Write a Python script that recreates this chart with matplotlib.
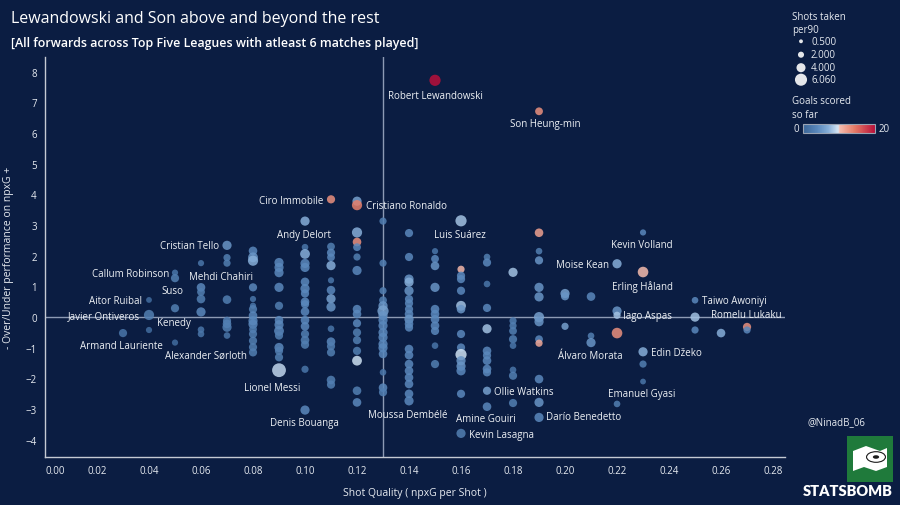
import numpy as np
import matplotlib
matplotlib.use("Agg")
import matplotlib.pyplot as plt
from matplotlib.colors import LinearSegmentedColormap, Normalize
from matplotlib.patches import Rectangle, Circle, Polygon

plt.rcParams['font.family'] = ['Open Sans', 'DejaVu Sans']

BG = '#0b1d42'
FG = '#e6eaf0'

# npxG per shot columns, and per-column values
cols = [0.03, 0.04, 0.05, 0.06, 0.07, 0.08, 0.09, 0.10, 0.11, 0.12, 0.13, 0.14,
        0.15, 0.16, 0.17, 0.18, 0.19, 0.20, 0.21, 0.22, 0.23, 0.25, 0.26, 0.27]

perf = [
    [-0.52],
    [0.56, 0.07, -0.42],
    [1.45, 1.27, 0.29, -0.83],
    [1.76, 0.97, 0.82, 0.59, 0.17, -0.41, -0.55],
    [2.34, 1.94, 1.76, 0.57, -0.12, -0.22, -0.33, -0.6],
    [2.16, 1.95, 1.84, 0.97, 0.59, 0.37, 0.26, 0.05, -0.12, -0.23, -0.4, -0.55, -0.77, -0.98, -1.15],
    [1.78, 1.62, 1.45, 0.97, 0.37, -0.1, -0.25, -0.45, -0.6, -0.99, -1.1, -1.31, -1.73],
    [3.13, 2.28, 2.06, 1.75, 1.62, 1.15, 0.93, 0.77, 0.5, 0.42, 0.18, -0.1, -0.3, -0.55, -0.75, -0.9, -1.7, -3.03],
    [3.84, 2.3, 2.1, 1.95, 1.68, 1.2, 0.88, 0.6, 0.33, -0.38, -0.8, -0.95, -1.15, -2.05, -2.2],
    [3.78, 3.65, 2.76, 2.45, 2.28, 1.96, 1.52, 0.26, 0.1, -0.2, -0.5, -0.75, -1.1, -1.42, -2.4, -2.78],
    [3.13, 1.76, 0.86, 0.55, 0.37, 0.2, 0.05, -0.1, -0.28, -0.5, -0.66, -0.88, -1.0, -1.2, -1.8, -2.3, -2.45],
    [2.74, 1.96, 1.24, 1.14, 0.86, 0.59, 0.45, 0.26, 0.1, -0.07, -0.22, -0.34, -1.04, -1.24, -1.53, -1.75, -1.97, -2.18, -2.5, -2.73],
    [7.72, 2.15, 1.9, 1.67, 0.97, 0.26, 0.1, -0.07, -0.28, -0.45, -0.93, -1.53],
    [3.14, 1.56, 1.35, 1.24, 0.86, 0.37, 0.26, -0.55, -0.99, -1.22, -1.42, -1.6, -1.75, -2.5, -3.79],
    [1.96, 1.78, 1.08, 0.3, -0.38, -1.1, -1.25, -1.42, -1.69, -1.8, -2.4, -2.92],
    [1.46, -0.12, -0.28, -0.45, -0.72, -0.93, -1.72, -1.91, -2.8],
    [6.71, 2.75, 2.15, 1.85, 0.97, 0.66, 0.0, -0.15, -0.72, -0.85, -2.02, -2.78, -3.27],
    [0.77, 0.68, -0.3],
    [0.67, -0.61, -0.83],
    [1.74, 0.2, 0.06, -0.52, -2.83],
    [2.76, 1.47, -1.13, -1.53, -2.1],
    [0.55, 0.0, -0.42],
    [-0.52],
    [-0.32, -0.42],
]

shots = [
    [2.0],
    [0.8, 3.0, 1.0],
    [1.0, 2.0, 2.0, 1.0],
    [1.0, 2.2, 1.8, 2.2, 2.5, 1.2, 1.2],
    [2.5, 1.5, 1.5, 2.2, 2.0, 2.2, 2.5, 1.2],
    [2.2, 2.8, 3.0, 2.0, 1.0, 1.0, 2.0, 2.2, 2.5, 2.5, 1.8, 2.0, 2.0, 2.0, 2.0],
    [2.5, 2.5, 2.5, 2.5, 2.0, 2.2, 2.5, 2.8, 2.0, 2.5, 2.0, 2.0, 4.8],
    [2.5, 1.2, 2.8, 2.5, 2.5, 2.2, 2.5, 2.0, 2.2, 2.0, 2.2, 2.2, 2.2, 2.0, 2.2, 2.0, 1.5, 2.5],
    [2.0, 1.8, 2.0, 1.8, 2.5, 1.0, 2.2, 2.5, 2.5, 1.2, 2.2, 2.0, 2.0, 2.2, 2.0],
    [2.5, 3.0, 3.0, 2.2, 1.8, 1.5, 2.5, 2.2, 2.2, 2.0, 2.0, 2.0, 2.0, 2.8, 2.2, 2.2],
    [1.5, 1.5, 1.5, 1.8, 2.5, 3.5, 2.5, 2.5, 2.5, 2.5, 2.5, 2.5, 2.5, 2.2, 1.2, 2.2, 2.0],
    [2.0, 2.0, 2.5, 2.5, 2.5, 2.0, 2.0, 2.0, 2.2, 2.5, 2.2, 2.0, 2.2, 2.2, 2.2, 2.2, 2.2, 2.2, 2.2, 2.5],
    [3.5, 1.0, 1.8, 2.2, 2.5, 2.2, 2.2, 2.2, 2.2, 2.0, 1.2, 2.0],
    [3.5, 1.5, 2.0, 2.0, 2.0, 2.8, 2.2, 2.0, 2.0, 3.5, 2.5, 2.5, 2.5, 2.0, 2.5],
    [1.2, 2.0, 1.2, 2.0, 2.5, 2.2, 2.0, 2.2, 2.2, 2.0, 2.0, 2.2],
    [2.5, 1.5, 1.5, 1.8, 2.0, 1.2, 1.2, 2.0, 2.0],
    [1.8, 2.2, 1.2, 2.0, 2.5, 2.5, 3.0, 2.5, 1.8, 1.5, 2.2, 2.5, 2.5],
    [2.5, 2.0, 1.5],
    [2.2, 1.2, 2.5],
    [2.5, 2.5, 1.5, 3.2, 1.2],
    [1.0, 3.2, 2.5, 1.5, 0.8],
    [1.2, 2.5, 1.5],
    [2.2],
    [2.0, 1.5],
]

goals = [
    [2],
    [1, 3, 1],
    [2, 3, 3, 1],
    [2, 4, 3, 3, 4, 2, 2],
    [5, 3, 3, 3, 3, 3, 3, 2],
    [4, 5, 7, 4, 2, 2, 3, 4, 4, 4, 3, 3, 3, 3, 3],
    [4, 4, 4, 4, 3, 4, 4, 4, 3, 4, 3, 3, 9],
    [7, 2, 7, 4, 4, 4, 4, 4, 4, 4, 4, 4, 4, 3, 3, 3, 2, 4],
    [13, 3, 4, 4, 7, 2, 4, 6, 5, 2, 4, 3, 3, 3, 3],
    [6, 14, 7, 13, 4, 3, 4, 4, 4, 4, 3, 3, 3, 9.5, 3, 4],
    [3, 3, 3, 3, 5, 6, 5, 4, 4, 4, 4, 4, 4, 4, 2, 4, 3],
    [4, 4, 5, 7, 5, 4, 4, 4, 4, 5, 4, 4, 4, 4, 4, 4, 4, 4, 4, 4],
    [20, 2, 4, 5, 5, 4, 4, 4, 4, 4, 2, 3],
    [8, 10.5, 4, 4, 4, 8, 5, 4, 4, 9.5, 5, 5, 4, 4, 3],
    [3, 4, 2, 4, 8, 4, 4, 4, 4, 4, 6, 4],
    [8, 3, 3, 3, 3, 2, 2, 3, 3],
    [13, 12, 3, 5, 5, 5, 6, 5, 4, 11.5, 4, 5, 4],
    [6, 5, 6],
    [4, 3, 5],
    [7, 5, 8, 13, 3],
    [4, 10.3, 7, 3, 2],
    [4, 8, 4],
    [7],
    [13, 4],
]

# labelled players: name, x, y, alignment
label_names = ["Robert Lewandowski", "Son Heung-min", "Ciro Immobile", "Cristiano Ronaldo",
               "Andy Delort", "Luis Suárez", "Cristian Tello", "Callum Robinson",
               "Mehdi Chahiri", "Suso", "Aitor Ruibal", "Javier Ontiveros", "Kenedy",
               "Armand Lauriente", "Alexander Sørloth", "Lionel Messi", "Denis Bouanga",
               "Moussa Dembélé", "Amine Gouiri", "Kevin Lasagna", "Ollie Watkins",
               "Darío Benedetto", "Emanuel Gyasi", "Edin Džeko", "Álvaro Morata",
               "Kevin Volland", "Moise Kean", "Erling Håland", "Taiwo Awoniyi",
               "Iago Aspas", "Romelu Lukaku"]
label_x = [0.150, 0.1923, 0.1069, 0.1234, 0.0996, 0.1596, 0.0669, 0.0477,
           0.0677, 0.0492, 0.0373, 0.0365, 0.0495, 0.0295, 0.0618, 0.0872, 0.0996,
           0.1395, 0.1696, 0.1630, 0.1727, 0.1927, 0.2296, 0.2330, 0.2097,
           0.2296, 0.2170, 0.2297, 0.2528, 0.2224, 0.2696]
label_y = [7.23, 6.32, 3.81, 3.63, 2.70, 2.70, 2.35, 1.43, 1.31, 0.86, 0.53, 0.04,
           -0.17, -0.93, -1.24, -2.31, -3.45, -3.16, -3.32, -3.82, -2.43, -3.25,
           -2.49, -1.15, -1.24, 2.36, 1.73, 1.00, 0.53, 0.04, 0.07]
label_ha = ["center", "center", "right", "left", "center", "center", "right", "right",
            "center", "center", "right", "right", "center", "center", "center", "center",
            "center", "center", "center", "left", "left", "left", "center", "left",
            "center", "center", "right", "center", "left", "left", "center"]

legend_shots = [0.5, 2.0, 4.0, 6.06]
legend_labels = ["0.500", "2.000", "4.000", "6.060"]


def bubble(s):
    d_px = 4.2 + 2.0 * np.asarray(s, dtype=float)
    return (d_px * 0.72) ** 2


xs = np.concatenate([[c] * len(p) for c, p in zip(cols, perf)])
ys = np.concatenate(perf)
ss = np.concatenate(shots)
gs = np.concatenate(goals)

cmap = LinearSegmentedColormap.from_list(
    "goals", [(0.0, '#3a6496'), (0.2, '#5a88bc'), (0.35, '#86aed8'), (0.49, '#d6e6f4'),
              (0.51, '#f5bcae'), (0.72, '#e57a66'), (1.0, '#b8103a')])
norm = Normalize(0, 20)

fig = plt.figure(figsize=(9, 5.06), dpi=100, facecolor=BG)
ax = fig.add_axes([45 / 900, 48 / 506, 740 / 900, 400 / 506])
ax.set_facecolor(BG)

ax.axvline(0.13, color='#8d9ab4', lw=1, zorder=1)
ax.axhline(0, color='#8d9ab4', lw=1, zorder=1)

ax.scatter(xs, ys, s=bubble(ss), c=gs, cmap=cmap, norm=norm, alpha=0.85,
           linewidths=0, zorder=3)

for name, lx, ly, ha in zip(label_names, label_x, label_y, label_ha):
    ax.text(lx, ly, name, color='#eef1f5', fontsize=7, ha=ha, va='center', zorder=5,
            fontweight='medium')

ax.set_xlim(0, 0.2846)
ax.set_ylim(-4.56, 8.48)
ax.set_xticks(np.arange(0, 0.29, 0.02))
ax.set_xticklabels([f"{v:.2f}" for v in np.arange(0, 0.29, 0.02)])
ax.set_yticks(range(-4, 9))
ax.tick_params(colors=FG, labelsize=7, length=0, pad=6)
ax.get_xticklabels()[0].set_horizontalalignment('left')
for side in ['top', 'right']:
    ax.spines[side].set_visible(False)
for side in ['left', 'bottom']:
    ax.spines[side].set_color('#c5cad3')
    ax.spines[side].set_linewidth(1)

ax.set_xlabel("Shot Quality ( npxG per Shot )", color=FG, fontsize=7.5, labelpad=8)
ax.set_ylabel("- Over/Under performance on npxG +", color=FG, fontsize=7.5, labelpad=8)

fig.text(11 / 900, 1 - 19 / 506, "Lewandowski and Son above and beyond the rest",
         color='white', fontsize=11.5, va='center', ha='left', fontweight='medium')
fig.text(11 / 900, 1 - 44 / 506,
         "[All forwards across Top Five Leagues with atleast 6 matches played]",
         color='white', fontsize=8.9, va='center', ha='left', fontweight='semibold')

# size legend
fig.text(792 / 900, 1 - 17 / 506, "Shots taken", color=FG, fontsize=7, va='center')
fig.text(792 / 900, 1 - 30 / 506, "per90", color=FG, fontsize=7, va='center')
lax = fig.add_axes([790 / 900, 1 - 87 / 506, 22 / 900, 51 / 506])
lax.set_xlim(0, 1)
lax.set_ylim(87, 36)
lax.axis('off')
leg_y = [42.3, 55.7, 68.7, 80.7]
lax.scatter([0.5] * len(legend_shots), leg_y, s=bubble(legend_shots) * 0.55,
            color='#e4e6ea', linewidths=0)
for ly, lab in zip(leg_y, legend_labels):
    fig.text(811 / 900, 1 - ly / 506, lab, color=FG, fontsize=7, va='center')

# colour legend
fig.text(792 / 900, 1 - 102 / 506, "Goals scored", color=FG, fontsize=7, va='center')
fig.text(792 / 900, 1 - 116 / 506, "so far", color=FG, fontsize=7, va='center')
cax = fig.add_axes([803 / 900, 1 - 133.5 / 506, 72 / 900, 9 / 506])
cb = fig.colorbar(plt.cm.ScalarMappable(norm=norm, cmap=cmap), cax=cax,
                  orientation='horizontal')
cb.set_ticks([])
cb.outline.set_edgecolor('#9aa3b3')
cb.outline.set_linewidth(0.8)
fig.text(799 / 900, 1 - 129 / 506, "0", color=FG, fontsize=7, va='center', ha='right')
fig.text(879 / 900, 1 - 129 / 506, "20", color=FG, fontsize=7, va='center', ha='left')

# credits
fig.text(836 / 900, 1 - 423 / 506, "@NinadB_06", color=FG, fontsize=7, ha='center',
         va='center')
fig.patches.append(Rectangle((847 / 900, 1 - 483 / 506), 46 / 900, 46 / 506,
                             transform=fig.transFigure, facecolor='#1f7a3b',
                             edgecolor='none'))
flag = [(853, 452), (866, 447), (880, 452), (887, 449), (887, 468), (876, 472),
        (864, 468), (853, 472)]
fig.patches.append(Polygon([(px / 900, 1 - py / 506) for px, py in flag], closed=True,
                           transform=fig.transFigure, facecolor='white',
                           edgecolor='none'))
fig.patches.append(Circle((876 / 900, 1 - 458 / 506), 0.0105, transform=fig.transFigure,
                          facecolor='white', edgecolor='#1a1a1a', lw=0.8))
fig.patches.append(Circle((876 / 900, 1 - 458 / 506), 0.0035, transform=fig.transFigure,
                          facecolor='#1a1a1a', edgecolor='none'))
fig.text(848 / 900, 1 - 492 / 506, "STATSBOMB", color='white', fontsize=10.5,
         fontweight='heavy', ha='center', va='center', family=['Lato', 'DejaVu Sans'])

fig.savefig("out.png", dpi=100, facecolor=BG)
